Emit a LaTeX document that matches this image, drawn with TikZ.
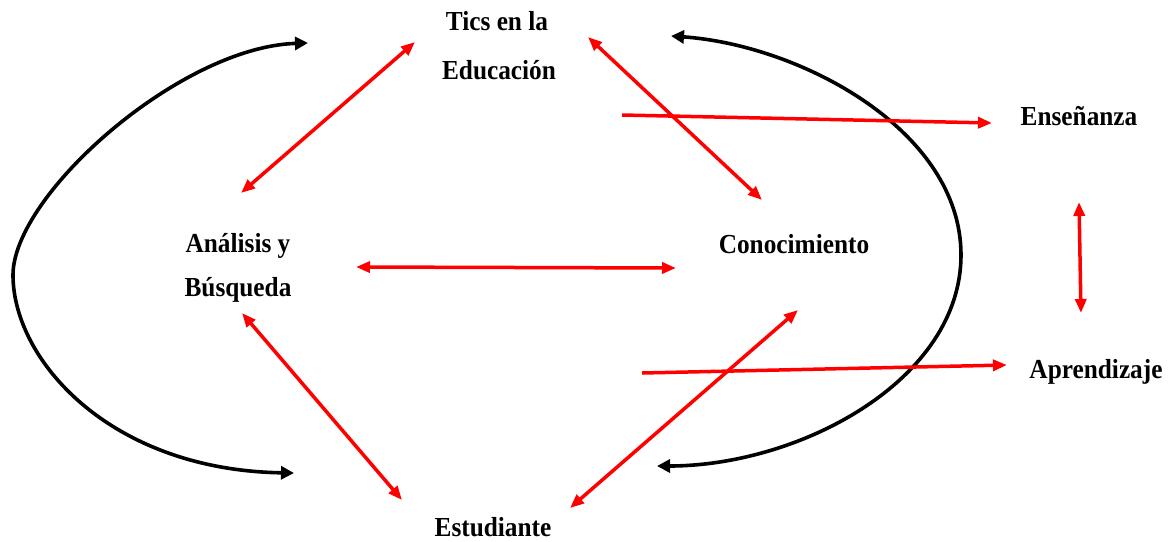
\documentclass[tikz,border=0pt]{standalone}
\usepackage{fontspec}
\setmainfont{Liberation Serif}[FakeStretch=0.92]
\usetikzlibrary{arrows.meta}
\begin{document}
\begin{tikzpicture}[x=1pt,y=-1pt,
  lbl/.style={anchor=base,inner sep=0pt,font=\fontsize{27.5}{32}\selectfont\bfseries},
  redarr/.style={draw=red,line width=3.5pt,{Triangle[length=14pt,width=11pt]}-{Triangle[length=14pt,width=11pt]}},
  redone/.style={draw=red,line width=3.5pt,-{Triangle[length=14pt,width=11pt]}},
  blackarc/.style={draw=black,line width=3.6pt,{Triangle[length=13pt,width=13pt]}-{Triangle[length=13pt,width=13pt]}}]
\useasboundingbox (0,0) rectangle (1172,541);
% labels
\node[lbl] (tics) at (497,30) {Tics en la};
\node[lbl] (edu) at (499,79) {Educación};
\node[lbl] (ana) at (238,252) {Análisis y};
\node[lbl] (bus) at (238,296) {Búsqueda};
\node[lbl] (con) at (794,253) {Conocimiento};
\node[lbl] (ens) at (1079,125) {Enseñanza};
\node[lbl] (apr) at (1096,378) {Aprendizaje};
\node[lbl] (est) at (493,536) {Estudiante};
% arrow end points
\coordinate (t1) at (415,42);   \coordinate (a1) at (241,193);
\coordinate (t2) at (588,37);   \coordinate (c1) at (762,200);
\coordinate (a2) at (356,267);  \coordinate (c2) at (676,268);
\coordinate (b1) at (242,313);  \coordinate (e1) at (402,500);
\coordinate (e2) at (570,508);  \coordinate (c3) at (798,310);
\coordinate (s1) at (622,115);  \coordinate (n1) at (992,123);
\coordinate (s2) at (642,373);  \coordinate (p1) at (1007,365);
\coordinate (n2) at (1079,202); \coordinate (p2) at (1081,313);
\coordinate (lt) at (308,43);   \coordinate (lb) at (294,473);
\coordinate (rt) at (671,36);   \coordinate (rb) at (657,466);
% black arcs
\draw[blackarc] (lt) .. controls (180,47) and (13,195) .. (13,275)
                     .. controls (13,360) and (110,470) .. (lb);
\draw[blackarc] (rt) .. controls (800,45) and (961,130) .. (961,255)
                     .. controls (961,380) and (800,466) .. (rb);
% red arrows
\draw[redarr] (t1) -- (a1);
\draw[redarr] (t2) -- (c1);
\draw[redarr] (a2) -- (c2);
\draw[redarr] (b1) -- (e1);
\draw[redarr] (e2) -- (c3);
\draw[redarr] (n2) -- (p2);
\draw[redone] (s1) -- (n1);
\draw[redone] (s2) -- (p1);
\end{tikzpicture}
\end{document}
